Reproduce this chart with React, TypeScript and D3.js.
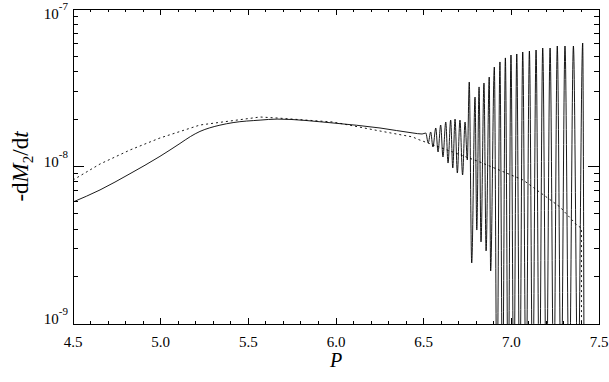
import React from 'react';
import * as d3 from 'd3';

const W = 609;
const H = 382;
const M = { top: 9, right: 10, bottom: 58, left: 73 };

// solid curve, smooth part
const solidP = [4.5, 4.654, 4.825, 4.996, 5.11, 5.17, 5.224, 5.28, 5.338, 5.413, 5.567, 5.664, 5.983, 6.251, 6.439, 6.491];
const solidRate = [5.95e-9, 7.1e-9, 9.0e-9, 1.16e-8, 1.4e-8, 1.55e-8, 1.67e-8, 1.76e-8, 1.83e-8, 1.9e-8, 1.97e-8, 2.0e-8, 1.889e-8, 1.756e-8, 1.632e-8, 1.608e-8];

// solid curve, oscillating part (alternating peaks and troughs)
const oscP = [
  6.512, 6.526, 6.54, 6.553, 6.569, 6.582, 6.597, 6.61, 6.626, 6.639, 6.654, 6.666, 6.679, 6.692,
  6.707, 6.722, 6.736, 6.749, 6.76, 6.774, 6.793, 6.803, 6.816, 6.827, 6.844, 6.856, 6.874, 6.882,
  6.903, 6.918, 6.935, 6.95, 6.966, 6.982, 6.998, 7.014, 7.031, 7.048, 7.065, 7.084, 7.103, 7.122,
  7.141, 7.16, 7.179, 7.2, 7.221, 7.242, 7.262, 7.284, 7.306, 7.33, 7.354, 7.38, 7.407, 7.415,
];
const oscRate = [
  1.632e-8, 1.41e-8, 1.656e-8, 1.33e-8, 1.756e-8, 1.237e-8, 1.834e-8, 1.149e-8, 1.916e-8, 1.052e-8, 1.973e-8, 9.78e-9, 2.0e-8, 9.09e-9,
  1.973e-8, 8.83e-9, 1.916e-8, 1.1e-8, 3.44e-8, 2.44e-9, 2.76e-8, 3.95e-9, 3.2e-8, 3.32e-9, 3.39e-8, 2.91e-9, 3.7e-8, 2.17e-9,
  4.28e-8, 3e-10, 4.61e-8, 3e-10, 4.89e-8, 3e-10, 5.1e-8, 3e-10, 5.18e-8, 3e-10, 5.33e-8, 3e-10, 5.41e-8, 3e-10,
  5.49e-8, 3e-10, 5.65e-8, 3e-10, 5.65e-8, 3e-10, 5.82e-8, 3e-10, 5.82e-8, 3e-10, 5.82e-8, 3e-10, 6.08e-8, 3e-10,
];

// dashed curve
const dashP = [4.5, 4.654, 4.825, 4.996, 5.224, 5.567, 5.664, 5.983, 6.251, 6.439, 6.462, 6.821, 7.067, 7.278, 7.369, 7.4, 7.4];
const dashRate = [8.21e-9, 1.037e-8, 1.273e-8, 1.517e-8, 1.834e-8, 2.062e-8, 2.032e-8, 1.916e-8, 1.68e-8, 1.539e-8, 1.495e-8, 1.068e-8, 8.21e-9, 5.53e-9, 4.3e-9, 4.05e-9, 3e-10];

const xMajor = [4.5, 5.0, 5.5, 6.0, 6.5, 7.0, 7.5];
const xLabels = ['4.5', '5.0', '5.5', '6.0', '6.5', '7.0', '7.5'];
const yExp = [-9, -8, -7];

const FONT = '"Liberation Serif", "DejaVu Serif", serif';

export default function App() {
  const x = d3.scaleLinear().domain([4.5, 7.5]).range([M.left, W - M.right]);
  const y = d3.scaleLog().domain([1e-9, 1e-7]).range([H - M.bottom, M.top]);
  const x0 = M.left, x1 = W - M.right, y0 = H - M.bottom, y1 = M.top;

  const line = d3.line<[number, number]>()
    .x(d => x(d[0]))
    .y(d => y(d[1]))
    .curve(d3.curveMonotoneX);

  const solid: [number, number][] = [
    ...solidP.map((p, i) => [p, solidRate[i]] as [number, number]),
    ...oscP.map((p, i) => [p, oscRate[i]] as [number, number]),
  ];
  const dashed: [number, number][] = dashP.map((p, i) => [p, dashRate[i]]);
  const dashedLine = d3.line<[number, number]>().x(d => x(d[0])).y(d => y(d[1])).curve(d3.curveLinear);

  const xMinor = d3.range(4.5, 7.5001, 0.1).filter(v => !xMajor.some(m => Math.abs(m - v) < 1e-6));
  const yMinor: number[] = [];
  [-9, -8].forEach(e => { for (let k = 2; k <= 9; k++) yMinor.push(k * Math.pow(10, e)); });

  const stroke = '#000';
  return (
    <svg width={W} height={H} style={{ position: 'absolute', left: 0, top: 0, background: '#fff' }} fontFamily={FONT}>
      <defs>
        <clipPath id="plot">
          <rect x={x0} y={y1} width={x1 - x0} height={y0 - y1} />
        </clipPath>
      </defs>
      <rect width={W} height={H} fill="#fff" />
      <g clipPath="url(#plot)" fill="none" stroke={stroke} strokeWidth={0.9}>
        <path d={dashedLine(dashed) || ''} strokeDasharray="2,3" />
        <path d={line(solid) || ''} />
      </g>
      <g stroke={stroke} strokeWidth={1} shapeRendering="crispEdges">
        <rect x={x0} y={y1} width={x1 - x0} height={y0 - y1} fill="none" />
        {xMajor.map(v => (
          <g key={'xM' + v}>
            <line x1={x(v)} x2={x(v)} y1={y0} y2={y0 - 6} />
            <line x1={x(v)} x2={x(v)} y1={y1} y2={y1 + 6} />
          </g>
        ))}
        {xMinor.map(v => (
          <g key={'xm' + v}>
            <line x1={x(v)} x2={x(v)} y1={y0} y2={y0 - 3} />
            <line x1={x(v)} x2={x(v)} y1={y1} y2={y1 + 3} />
          </g>
        ))}
        {yExp.map(e => (
          <g key={'yM' + e}>
            <line x1={x0} x2={x0 + 11} y1={y(Math.pow(10, e))} y2={y(Math.pow(10, e))} />
            <line x1={x1} x2={x1 - 11} y1={y(Math.pow(10, e))} y2={y(Math.pow(10, e))} />
          </g>
        ))}
        {yMinor.map(v => (
          <g key={'ym' + v}>
            <line x1={x0} x2={x0 + 5} y1={y(v)} y2={y(v)} />
            <line x1={x1} x2={x1 - 5} y1={y(v)} y2={y(v)} />
          </g>
        ))}
      </g>
      <g fontSize={15} fill="#000">
        {xMajor.map((v, i) => (
          <text key={'xl' + v} x={x(v)} y={347} textAnchor="middle">{xLabels[i]}</text>
        ))}
        {yExp.map(e => {
          const ty = Math.max(y(Math.pow(10, e)), M.top + 10);
          return (
            <text key={'yl' + e} x={x0 - 5} y={ty} textAnchor="end">
              10<tspan fontSize={11} dy={-9}>{String(e)}</tspan>
            </text>
          );
        })}
      </g>
      <text x={336} y={367} fontSize={20} fontStyle="italic" textAnchor="middle">P</text>
      <text transform={`translate(28,${(y0 + y1) / 2}) rotate(-90)`} fontSize={23} textAnchor="middle">
        -d<tspan fontStyle="italic">M</tspan><tspan fontSize={15} dy={5}>2</tspan><tspan dy={-5}>/d</tspan><tspan fontStyle="italic">t</tspan>
      </text>
    </svg>
  );
}
